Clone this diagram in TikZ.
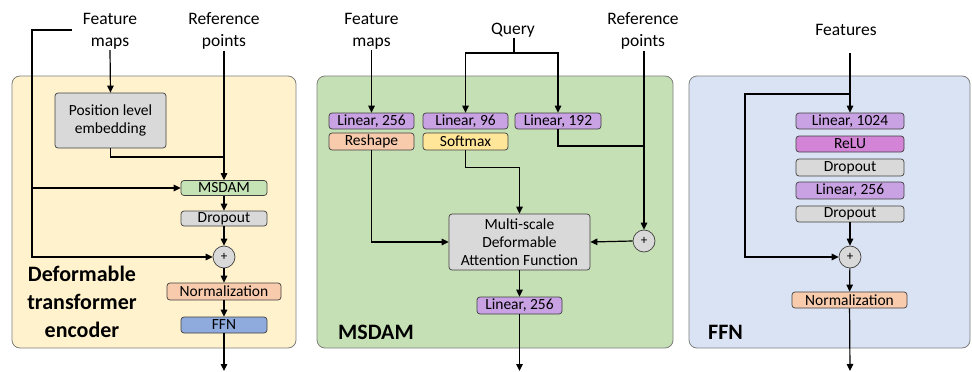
\documentclass[tikz,border=0pt]{standalone}
\usepackage{fontspec}
\setmainfont{Carlito}
\usetikzlibrary{arrows.meta,calc}
\definecolor{bgyel}{HTML}{FFF2CC}
\definecolor{bggrn}{HTML}{C5E0B4}
\definecolor{bgblu}{HTML}{DAE3F3}
\definecolor{cgray}{HTML}{D9D9D9}
\definecolor{cgrn}{HTML}{C5E3B5}
\definecolor{csal}{HTML}{F8CBAD}
\definecolor{cblu}{HTML}{8FAADC}
\definecolor{cpur}{HTML}{C9A2E4}
\definecolor{cmag}{HTML}{D384D6}
\definecolor{cyel}{HTML}{FFE699}
\definecolor{edge}{HTML}{404040}
\definecolor{pedge}{HTML}{7F7F7F}
\begin{document}
\begin{tikzpicture}[x=1pt,y=-1pt,
  panel/.style={draw=pedge,line width=0.8pt,rounded corners=8pt},
  blk/.style={draw=edge,line width=0.7pt,rounded corners=3pt,inner sep=0pt,
    font=\fontsize{15.5}{18}\selectfont,align=center},
  plusnode/.style={circle,draw=edge,line width=0.7pt,fill=cgray,minimum size=22pt,inner sep=0pt,
    font=\fontsize{13}{13}\selectfont},
  lbl/.style={align=center,font=\fontsize{17.5}{22}\selectfont,inner sep=1pt},
  ttl/.style={align=center,font=\fontsize{22}{28}\selectfont\bfseries,inner sep=0pt},
  arr/.style={-{Triangle[length=7pt,width=6.5pt]},line width=1.2pt},
  ln/.style={line width=1.2pt}]
\useasboundingbox (0,0) rectangle (972,372);
% panels
\fill[white] (0,0) rectangle (972,372);
\draw[panel,fill=bgyel] (12,76) rectangle (296,348);
\draw[panel,fill=bggrn] (317,76) rectangle (673,348);
\draw[panel,fill=bgblu] (689,76) rectangle (970,348);
% ---------- left panel ----------
\node[lbl] (fm1) at (110,31) {Feature\\maps};
\node[lbl] (rp1) at (224,31) {Reference\\points};
\node[blk,fill=cgray,minimum width=111pt,minimum height=55pt] (ple) at (110.5,120.5) {Position level\\embedding};
\node[blk,fill=cgrn,minimum width=86pt,minimum height=15pt] (msdam) at (224,188) {MSDAM};
\node[blk,fill=cgray,minimum width=86pt,minimum height=15pt] (drop1) at (224,218.5) {Dropout};
\node[plusnode] (plus1) at (224,257) {+};
\node[blk,fill=csal,minimum width=114pt,minimum height=17pt] (norm1) at (224,291.5) {Normalization};
\node[blk,fill=cblu,minimum width=86pt,minimum height=16pt] (ffn1) at (224,325) {FFN};
\node[ttl] (t1) at (82,302) {Deformable\\transformer\\encoder};
\coordinate (s1) at (72,30);
\coordinate (c1) at (32,30);
\coordinate (j1) at (224,157);
\coordinate (o1) at (224,371);
\draw[arr] (fm1.south) -- (ple.north);
\draw[arr] (rp1.south) -- (msdam.north);
\draw[ln] (ple.south) |- (j1);
\draw[arr] (s1) -- (c1) -- (c1 |- plus1) -- (plus1.west);
\draw[arr] (c1 |- msdam) -- (msdam.west);
\draw[arr] (msdam) -- (drop1);
\draw[arr] (drop1) -- (plus1);
\draw[arr] (plus1) -- (norm1);
\draw[arr] (norm1) -- (ffn1);
\draw[arr] (ffn1) -- (o1);
% ---------- middle panel ----------
\node[lbl] (fm2) at (371.5,31) {Feature\\maps};
\node[lbl] (qry) at (513,30) {Query};
\node[lbl] (rp2) at (643,31) {Reference\\points};
\node[blk,fill=cpur,minimum width=85pt,minimum height=16pt] (l256) at (371.5,121) {Linear, 256};
\node[blk,fill=csal,minimum width=85pt,minimum height=17pt] (resh) at (371.5,141.5) {Reshape};
\node[blk,fill=cpur,minimum width=85pt,minimum height=16pt] (l96) at (465.5,121) {Linear, 96};
\node[blk,fill=cyel,minimum width=85pt,minimum height=17pt] (soft) at (465.5,141.5) {Softmax};
\node[blk,fill=cpur,minimum width=86pt,minimum height=16pt] (l192) at (558,121) {Linear, 192};
\node[blk,fill=cgray,minimum width=141pt,minimum height=56pt] (mdaf) at (519.5,242) {Multi-scale\\Deformable\\Attention Function};
\node[plusnode] (plus2) at (644,241) {+};
\node[blk,fill=cpur,minimum width=85pt,minimum height=17pt] (l256b) at (519.5,305.5) {Linear, 256};
\node[ttl,anchor=west] (t2) at (338,332) {MSDAM};
\coordinate (q) at (514,53);
\coordinate (j2) at (644,146);
\coordinate (o2) at (519.5,371);
\draw[arr] (fm2.south) -- (l256.north);
\draw[ln] (qry.south -| q) -- (q);
\draw[arr] (q) -| (l96.north);
\draw[arr] (q) -| (l192.north);
\draw[arr] (rp2.south -| plus2) -- (plus2.north);
\draw[ln] (l192.south) |- (j2);
\draw[arr] (resh.south) |- (mdaf.west);
\draw[arr] (soft.south) |- ($(mdaf.north)+(0,-46)$) -- (mdaf.north);
\draw[arr] (plus2.west) -- (mdaf.east);
\draw[arr] (mdaf) -- (l256b);
\draw[arr] (l256b) -- (o2);
% ---------- right panel ----------
\node[lbl] (feat) at (846,30) {Features};
\node[blk,fill=cpur,minimum width=108pt,minimum height=16pt] (l1024) at (850,121) {Linear, 1024};
\node[blk,fill=cmag,minimum width=108pt,minimum height=16pt] (relu) at (850,144) {ReLU};
\node[blk,fill=cgray,minimum width=108pt,minimum height=17pt] (drop2) at (850,167.5) {Dropout};
\node[blk,fill=cpur,minimum width=108pt,minimum height=17pt] (l256c) at (850,190.5) {Linear, 256};
\node[blk,fill=cgray,minimum width=108pt,minimum height=16pt] (drop3) at (850,214) {Dropout};
\node[plusnode] (plus3) at (850,257) {+};
\node[blk,fill=csal,minimum width=115pt,minimum height=16pt] (norm3) at (849.5,300) {Normalization};
\node[ttl,anchor=west] (t3) at (708,332) {FFN};
\coordinate (f3) at (850,53);
\coordinate (b3) at (850,94);
\coordinate (c3) at (745,94);
\coordinate (o3) at (850,371);
\draw[arr] (f3) -- (l1024.north);
\draw[arr] (b3) -- (c3) -- (c3 |- plus3) -- (plus3.west);
\draw[arr] (drop3) -- (plus3);
\draw[arr] (plus3) -- (norm3);
\draw[arr] (norm3) -- (o3);
\end{tikzpicture}
\end{document}
